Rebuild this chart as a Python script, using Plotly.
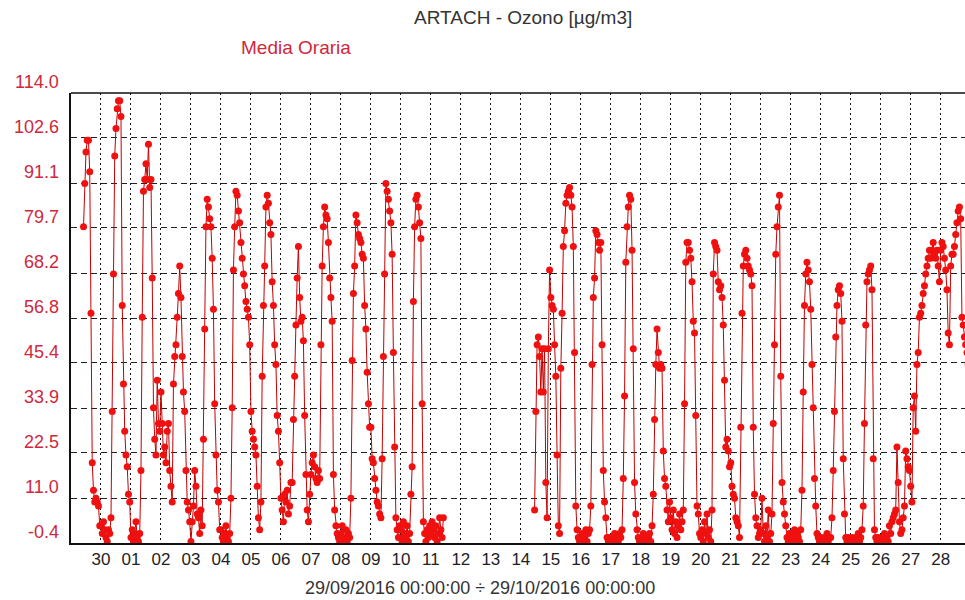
import pandas as pd
import plotly.graph_objects as go

# Hourly ozone values (µg/m3), one list per day, hours 00..23 (None = no data)
d0929 = [None] * 10 + [80, 91, 99, 102, 102, 94, 58, 20, 13, 10, 11, 10, 9, 4]
d0930 = [4, 2, 5, 3, 1, 0, 3, 2, 6, 33, 68, 98, 105, 110, 112, 112, 108, 60, 40, 28, 22, 19, 12, 10]
d1001 = [1, 3, 0, 2, 5, 1, 0, 2, 18, 57, 89, 92, 96, 92, 101, 90, 92, 67, 34, 26, 22, 41, 30, 28]
d1002 = [38, 30, 22, 24, 20, 28, 30, 18, 14, 10, 40, 47, 50, 57, 63, 70, 62, 47, 38, 33, 18, 10, 8, 5]
d1003 = [0, 5, 9, 18, 14, 7, 6, 2, 8, 4, 26, 54, 80, 87, 85, 82, 80, 72, 59, 35, 22, 13, 10, 3]
d1004 = [3, 1, 0, 2, 4, 1, 0, 2, 11, 34, 69, 80, 89, 88, 84, 81, 76, 72, 68, 65, 61, 59, 57, 50]
d1005 = [33, 28, 26, 24, 22, 14, 6, 3, 10, 42, 60, 70, 85, 88, 86, 81, 78, 66, 60, 50, 45, 32, 28, 20]
d1006 = [11, 8, 5, 12, 10, 13, 7, 9, 15, 15, 31, 42, 55, 67, 75, 62, 56, 57, 51, 32, 17, 8, 5, 12]
d1007 = [17, 20, 22, 19, 16, 15, 18, 16, 50, 70, 80, 85, 83, 82, 76, 67, 62, 56, 17, 8, 4, 2, 1, 0]
d1008 = [2, 4, 0, 1, 3, 0, 2, 1, 11, 46, 63, 70, 83, 81, 78, 77, 76, 73, 72, 60, 54, 43, 35, 29]
d1009 = [29, 21, 20, 16, 13, 10, 9, 7, 6, 21, 47, 68, 91, 89, 87, 84, 81, 73, 48, 24, 6, 3, 1, 4]
d1010 = [3, 0, 5, 2, 1, 4, 0, 2, 12, 19, 61, 80, 87, 88, 85, 81, 77, 35, 5, 2, 0, 3, 1, 4]
d1011 = [2, 5, 3, 1, 4, 0, 2, 6, 3, 1, 6] + [None] * 13
d1012 = [None] * 24
d1013 = [None] * 24
d1014 = [None] * 11 + [8, 33, 50, 52, 47, 38, 49, 38, 49, 15, 6, 49, 69]
d1015 = [62, 60, 59, 50, 42, 22, 4, 2, 44, 58, 75, 79, 86, 88, 89, 90, 88, 85, 75, 48, 9, 3, 1, 0]
d1016 = [1, 2, 0, 1, 3, 0, 2, 3, 9, 45, 62, 67, 79, 78, 76, 74, 76, 50, 18, 10, 6, 1, 0, 1]
d1017 = [0, 1, 0, 2, 0, 1, 0, 2, 1, 3, 16, 37, 71, 80, 85, 88, 87, 74, 49, 15, 7, 3, 1, 0]
d1018 = [0, 1, 2, 0, 1, 0, 1, 2, 0, 4, 12, 31, 45, 54, 48, 44, 45, 44, 23, 16, 14, 8, 5, 10]
d1019 = [6, 3, 8, 2, 5, 1, 4, 7, 3, 5, 8, 35, 71, 76, 76, 74, 72, 66, 56, 53, 32, 9, 7, 2]
d1020 = [1, 3, 0, 5, 2, 7, 1, 3, 0, 8, 68, 76, 75, 74, 66, 64, 65, 62, 55, 41, 24, 26, 23, 19]
d1021 = [20, 14, 12, 11, 6, 5, 4, 1, 29, 58, 70, 73, 74, 72, 70, 69, 68, 65, 29, 12, 6, 4, 1, 2]
d1022 = [3, 11, 2, 0, 4, 1, 8, 0, 2, 7, 30, 50, 73, 80, 85, 88, 42, 15, 10, 7, 4, 1, 0, 2]
d1023 = [2, 0, 1, 3, 0, 2, 1, 0, 3, 13, 38, 60, 68, 71, 69, 66, 59, 45, 34, 16, 9, 2, 1, 0]
d1024 = [1, 0, 0, 1, 0, 2, 0, 1, 1, 6, 18, 33, 52, 60, 64, 65, 63, 56, 21, 7, 1, 0, 1, 0]
d1025 = [0, 1, 0, 0, 1, 0, 2, 0, 1, 3, 9, 30, 55, 66, 68, 69, 70, 64, 21, 3, 1, 0, 1, 0]
d1026 = [0, 1, 0, 2, 0, 1, 0, 4, 2, 5, 6, 7, 8, 24, 15, 5, 2, 3, 6, 9, 23, 21, 19, 18]
d1027 = [14, 10, 34, 37, 28, 45, 48, 57, 58, 60, 63, 65, 68, 70, 72, 74, 72, 74, 76, 73, 72, 74, 70, 66]
d1028 = [74, 76, 75, 72, 69, 64, 53, 50, 70, 73, 73, 75, 78, 81, 84, 85, 82, 57, 55, 52, 50, 48, 45, 44]

y_ticks = [-0.4, 11.0, 22.5, 33.9, 45.4, 56.8, 68.2, 79.7, 91.1, 102.6, 114.0]
y_tick_labels = ["-0.4", "11.0", "22.5", "33.9", "45.4", "56.8", "68.2", "79.7", "91.1", "102.6", "114.0"]

x_tick_dates = pd.date_range("2016-09-30", "2016-10-28", freq="D")
x_tick_labels = ["30", "01", "02", "03", "04", "05", "06", "07", "08", "09", "10",
                 "11", "12", "13", "14", "15", "16", "17", "18", "19", "20",
                 "21", "22", "23", "24", "25", "26", "27", "28"]

title_text = "ARTACH - Ozono [µg/m3]"
series_name = "Media Oraria"
period_text = "29/09/2016 00:00:00 ÷ 29/10/2016 00:00:00"

days = [d0929, d0930, d1001, d1002, d1003, d1004, d1005, d1006, d1007, d1008,
        d1009, d1010, d1011, d1012, d1013, d1014, d1015, d1016, d1017, d1018,
        d1019, d1020, d1021, d1022, d1023, d1024, d1025, d1026, d1027, d1028]
values = [v for d in days for v in d]
times = pd.date_range("2016-09-29 00:00", periods=len(values), freq="h")

W, H = 965, 600
L, R, T, B = 71, 0, 93, 57
pw, ph = W - L - R, H - T - B

def px_x(px):
    return (px - L) / pw

def px_y(py):
    return (H - B - py) / ph

fig = go.Figure()
fig.add_trace(go.Scatter(
    x=times, y=values, mode="lines+markers", connectgaps=False,
    line=dict(color="#c40000", width=1),
    marker=dict(color="#f01010", size=7, line=dict(width=0)),
    name=series_name, showlegend=False,
))

font_family = "Liberation Sans, Arial, sans-serif"
tick_red = "#d0283c"

fig.update_layout(
    width=W, height=H,
    margin=dict(l=L, r=R, t=T, b=B, pad=0),
    paper_bgcolor="white", plot_bgcolor="white",
    font=dict(family=font_family, size=17, color="#222"),
    xaxis=dict(
        type="date",
        range=["2016-09-29 00:00", "2016-10-28 19:27"],
        tickmode="array", tickvals=list(x_tick_dates), ticktext=x_tick_labels,
        showgrid=True, gridcolor="#111", gridwidth=1.3, griddash="2px,3px",
        showline=True, linecolor="#111", linewidth=1.5,
        ticks="", zeroline=False,
        tickfont=dict(family=font_family, size=17, color="#222"),
    ),
    yaxis=dict(
        range=[-0.4, 114.0],
        tickmode="array", tickvals=y_ticks, showticklabels=False,
        showgrid=True, gridcolor="#222", gridwidth=1.3, griddash="6px,4px",
        showline=True, linecolor="#111", linewidth=1.5,
        ticks="", zeroline=False,
    ),
    shapes=[dict(type="line", xref="paper", yref="paper", x0=0, x1=1, y0=1, y1=1,
                 line=dict(color="#111", width=1.5))],
)

annotations = []
for v, lab in zip(y_ticks, y_tick_labels):
    annotations.append(dict(
        x=0, xref="paper", y=v, yref="y", text=lab, showarrow=False,
        xanchor="right", yanchor="middle", xshift=-10, yshift=11,
        font=dict(family=font_family, size=18, color=tick_red),
    ))
annotations.append(dict(
    x=px_x(523), xref="paper", y=px_y(18), yref="paper", text=title_text,
    showarrow=False, xanchor="center", yanchor="middle",
    font=dict(family=font_family, size=19, color="#333"),
))
annotations.append(dict(
    x=px_x(296), xref="paper", y=px_y(47), yref="paper", text=series_name,
    showarrow=False, xanchor="center", yanchor="middle",
    font=dict(family=font_family, size=19, color=tick_red),
))
annotations.append(dict(
    x=px_x(480), xref="paper", y=px_y(588), yref="paper", text=period_text,
    showarrow=False, xanchor="center", yanchor="middle",
    font=dict(family=font_family, size=18, color="#333"),
))
fig.update_layout(annotations=annotations)

fig.write_html(
    "out.html",
    config={"displayModeBar": False},
    post_script="document.body.style.margin='0';document.body.style.padding='0';document.body.style.overflow='hidden';",
)
